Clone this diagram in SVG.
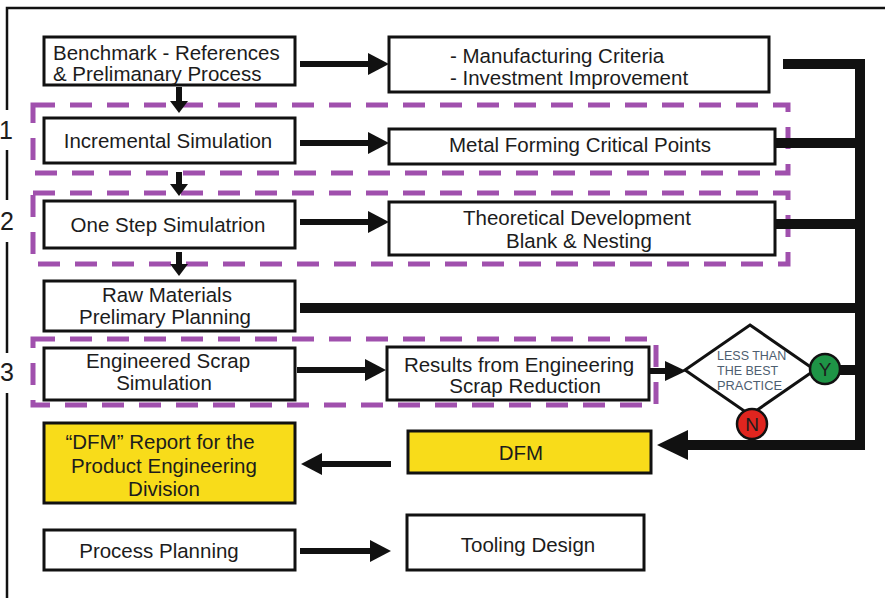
<svg xmlns="http://www.w3.org/2000/svg" width="885" height="598" viewBox="0 0 885 598">
  <style>
    .box { fill: #ffffff; stroke: #111111; stroke-width: 3; }
    .yel { fill: #f8dc1a; stroke: #111111; stroke-width: 3; }
    .zone { fill: none; stroke: #a050ad; stroke-width: 5; stroke-dasharray: 22 15; }
    .t { font-family: "Liberation Sans", Arial, sans-serif; font-size: 20.5px; fill: #1c1c1c; }
    .c { text-anchor: middle; }
    .small { font-family: "Liberation Sans", Arial, sans-serif; font-size: 12.5px; fill: #4d5e70; }
    .num { font-family: "Liberation Sans", Arial, sans-serif; font-size: 25px; fill: #1c1c1c; }
    .shaft { stroke: #111111; stroke-width: 6; fill: none; }
    .bus { stroke: #111111; stroke-width: 10; fill: none; }
    .head { fill: #111111; }
  </style>

  <rect width="885" height="598" fill="#ffffff"/>

  <!-- outer frame with gaps for stage numbers -->
  <g id="frame" stroke="#111111" stroke-width="2.5" fill="none">
    <path d="M7 598 V393 M7 353 V242 M7 200 V150 M7 110 V8 H885"/>
  </g>
  <g id="stage-numbers">
    <text class="num" x="-1" y="139">1</text>
    <text class="num" x="0" y="230">2</text>
    <text class="num" x="0" y="381">3</text>
  </g>

  <!-- dashed stage zones -->
  <g id="zones">
    <rect class="zone" x="33" y="105" width="755" height="68"/>
    <rect class="zone" x="33" y="193" width="755" height="71"/>
    <rect class="zone" x="33" y="339" width="623" height="66"/>
  </g>

  <!-- nodes -->
  <g id="benchmark">
    <rect class="box" x="44" y="37" width="251" height="48"/>
    <text class="t" x="53" y="60">Benchmark - References</text>
    <text class="t" x="53" y="81">&amp; Prelimanary Process</text>
  </g>
  <g id="criteria">
    <rect class="box" x="389" y="37" width="380" height="55"/>
    <text class="t" x="450" y="63">- Manufacturing Criteria</text>
    <text class="t" x="450" y="85">- Investment Improvement</text>
  </g>
  <g id="incremental">
    <rect class="box" x="44" y="118" width="251" height="45"/>
    <text class="t c" x="168" y="148">Incremental Simulation</text>
  </g>
  <g id="critical-points">
    <rect class="box" x="389" y="129" width="386" height="35"/>
    <text class="t c" x="580" y="152">Metal Forming Critical Points</text>
  </g>
  <g id="one-step">
    <rect class="box" x="44" y="201" width="251" height="47"/>
    <text class="t c" x="168" y="232">One Step Simulatrion</text>
  </g>
  <g id="theoretical">
    <rect class="box" x="389" y="202" width="386" height="53"/>
    <text class="t c" x="577" y="225">Theoretical Development</text>
    <text class="t c" x="579" y="248">Blank &amp; Nesting</text>
  </g>
  <g id="raw-materials">
    <rect class="box" x="44" y="281" width="251" height="50"/>
    <text class="t c" x="167" y="302">Raw Materials</text>
    <text class="t c" x="165" y="324">Prelimary Planning</text>
  </g>
  <g id="scrap-sim">
    <rect class="box" x="44" y="348" width="251" height="52"/>
    <text class="t c" x="168" y="368">Engineered Scrap</text>
    <text class="t c" x="164" y="390">Simulation</text>
  </g>
  <g id="scrap-results">
    <rect class="box" x="387" y="347" width="262" height="53"/>
    <text class="t c" x="519" y="372">Results from Engineering</text>
    <text class="t c" x="525" y="393">Scrap Reduction</text>
  </g>
  <g id="decision">
    <polygon points="750,325 815,370 750,415 685,370" fill="#ffffff" stroke="#111111" stroke-width="3"/>
    <text class="small" x="717" y="360">LESS THAN</text>
    <text class="small" x="717" y="375">THE BEST</text>
    <text class="small" x="717" y="390" textLength="65" lengthAdjust="spacingAndGlyphs">PRACTICE</text>
  </g>
  <g id="yes">
    <circle cx="825" cy="369" r="15" fill="#1e9446" stroke="#111111" stroke-width="2.5"/>
    <text class="t c" x="825" y="376" style="font-size:19px">Y</text>
  </g>
  <g id="no">
    <circle cx="752" cy="424" r="15" fill="#e0251f" stroke="#111111" stroke-width="2.5"/>
    <text class="t c" x="752" y="431" style="font-size:19px">N</text>
  </g>
  <g id="dfm-report">
    <rect class="yel" x="44" y="423" width="251" height="80"/>
    <text class="t c" x="160" y="449">“DFM” Report for the</text>
    <text class="t c" x="164" y="473">Product Engineering</text>
    <text class="t c" x="164" y="496">Division</text>
  </g>
  <g id="dfm">
    <rect class="yel" x="408" y="431" width="243" height="42"/>
    <text class="t c" x="521" y="460">DFM</text>
  </g>
  <g id="process-planning">
    <rect class="box" x="44" y="530" width="251" height="40"/>
    <text class="t c" x="159" y="558">Process Planning</text>
  </g>
  <g id="tooling">
    <rect class="box" x="407" y="515" width="237" height="55"/>
    <text class="t c" x="528" y="552">Tooling Design</text>
  </g>

  <!-- connectors -->
  <g id="connectors">
    <!-- horizontal flow arrows -->
    <path class="shaft" d="M300 64 H370"/>
    <polygon class="head" points="389,64 368,53 368,75"/>
    <path class="shaft" d="M300 143 H370"/>
    <polygon class="head" points="389,143 368,132 368,154"/>
    <path class="shaft" d="M300 222 H370"/>
    <polygon class="head" points="389,222 368,211 368,233"/>
    <path class="shaft" d="M297 370 H367"/>
    <polygon class="head" points="386,370 365,359 365,381"/>
    <path class="shaft" d="M650 371 H667"/>
    <polygon class="head" points="686,371 665,361 665,381"/>
    <path class="shaft" d="M300 551 H372"/>
    <polygon class="head" points="391,551 370,540 370,562"/>
    <path class="shaft" d="M391 464 H320"/>
    <polygon class="head" points="301,464 322,453 322,475"/>

    <!-- downward arrows -->
    <path class="shaft" d="M179 87 V103"/>
    <polygon class="head" points="179,113 170,101 188,101"/>
    <path class="shaft" d="M179 172 V186"/>
    <polygon class="head" points="179,196 170,184 188,184"/>
    <path class="shaft" d="M179 252 V266"/>
    <polygon class="head" points="179,276 170,264 188,264"/>

    <!-- feedback bus on the right -->
    <path class="bus" d="M783 64 H860 V445 H684"/>
    <path class="bus" d="M775 143 H860"/>
    <path class="bus" d="M775 224 H860"/>
    <path class="bus" d="M300 308 H860"/>
    <path class="bus" d="M839 370 H860"/>
    <polygon class="head" points="657,445 688,430 688,460"/>
  </g>
</svg>
